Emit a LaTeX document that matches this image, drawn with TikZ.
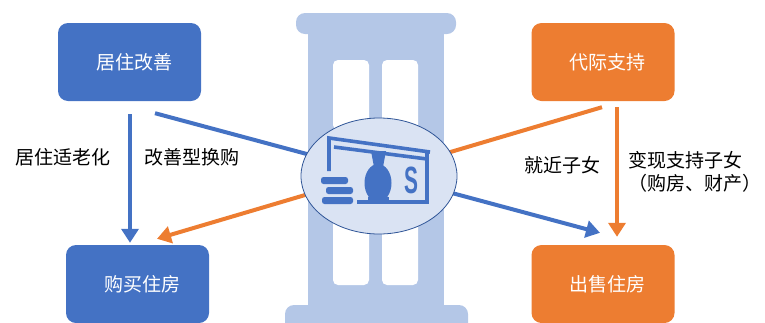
\documentclass[tikz,border=0pt]{standalone}
\usepackage{fontspec}
\setmainfont{Noto Sans CJK SC}
\newfontfamily\dollarfont{Liberation Sans}
\usetikzlibrary{arrows.meta,calc,shapes.geometric}
\definecolor{cblue}{HTML}{4472C4}
\definecolor{corange}{HTML}{ED7D31}
\definecolor{cbuild}{HTML}{B4C7E7}
\definecolor{cdisc}{HTML}{DAE3F3}
\definecolor{cedge}{HTML}{2F5597}
\begin{document}
\begin{tikzpicture}[x=1pt,y=-1pt,
  box/.style={rounded corners=10pt, minimum width=143pt, minimum height=78pt,
    inner sep=0pt, text=white, font=\fontsize{19}{19}\selectfont,
    execute at begin node=\hspace*{9pt}},
  lbl/.style={text=black, font=\fontsize{19}{23}\selectfont, inner sep=0pt},
  flow/.style={line width=4pt, -{Triangle[width=17pt,length=14pt]}},
  plain/.style={line width=4pt},
  win/.style={fill=white, rounded corners=5pt},
  icon/.style={draw=cblue, line width=3.6pt}
]
\clip (0,0) rectangle (765,322);

% building silhouette behind the money disc
\fill[cbuild, rounded corners=9pt] (296,13) rectangle (456,34);
\fill[cbuild] (308,28) rectangle (444,312);
\fill[cbuild, rounded corners=9pt] (285,305) rectangle (468,340);
\fill[win] (333,60) rectangle (369,130);
\fill[win] (382,60) rectangle (418,130);
\fill[win] (333,215) rectangle (369,285);
\fill[win] (382,215) rectangle (418,285);

% boxes
\node[box, fill=cblue]   (ju)   at (129.5,62)  {居住改善};
\node[box, fill=cblue]   (buy)  at (137.5,284) {购买住房};
\node[box, fill=corange] (dai)  at (603,62)    {代际支持};
\node[box, fill=corange] (sell) at (603,284)   {出售住房};

% crossing flows (pass behind the disc)
\draw[plain, cblue, flow]   ($(ju.south)+(25.5,12)$) -- ($(sell.north)+(-3,-12)$);
\draw[plain, corange, flow] ($(dai.south)+(-1,6)$) -- ($(buy.north)+(19.5,-6)$);

% vertical flows
\draw[cblue, flow]   ($(ju.south)+(0.5,13)$) -- ($(ju.south |- buy.north)+(0.5,-2)$);
\draw[corange, flow] ($(dai.south)+(14,6)$) -- ($(dai.south |- sell.north)+(14,-8)$);

% money disc
\node[ellipse, fill=cdisc, draw=cedge, line width=0.8pt,
      minimum width=156pt, minimum height=116pt, inner sep=0pt] (money) at (379,176) {};

% bank-note icon
\draw[icon] (329,171) -- (329,138) -- (430,152);
\draw[icon] (334,147) -- (427,159);
\draw[icon] (427,153) -- (427,202) -- (357,202);
\fill[cblue] (378,183) ellipse [x radius=13.5, y radius=19];
\fill[cblue] (371,151) -- (386,151) -- (383,167) -- (374,167) -- cycle;
\fill[cblue] (368,197) rectangle (389,203);
\fill[cblue, rounded corners=2.5pt] (321,177) rectangle (348,184);
\fill[cblue, rounded corners=2.5pt] (326,187) rectangle (353,194);
\fill[cblue, rounded corners=2.5pt] (322,197) rectangle (353,204);
\node[text=cblue, font=\dollarfont\bfseries\fontsize{38}{38}\selectfont,
      xscale=0.55, inner sep=0pt] (dollar) at (411,180) {S};

% labels
\node[lbl] (l1) at (63,157)  {居住适老化};
\node[lbl] (l2) at (192,157) {改善型换购};
\node[lbl] (l3) at (562,165) {就近子女};
\node[lbl, align=left] (l4) at (695,171.5) {变现支持子女\\（购房、财产）};
\end{tikzpicture}
\end{document}
